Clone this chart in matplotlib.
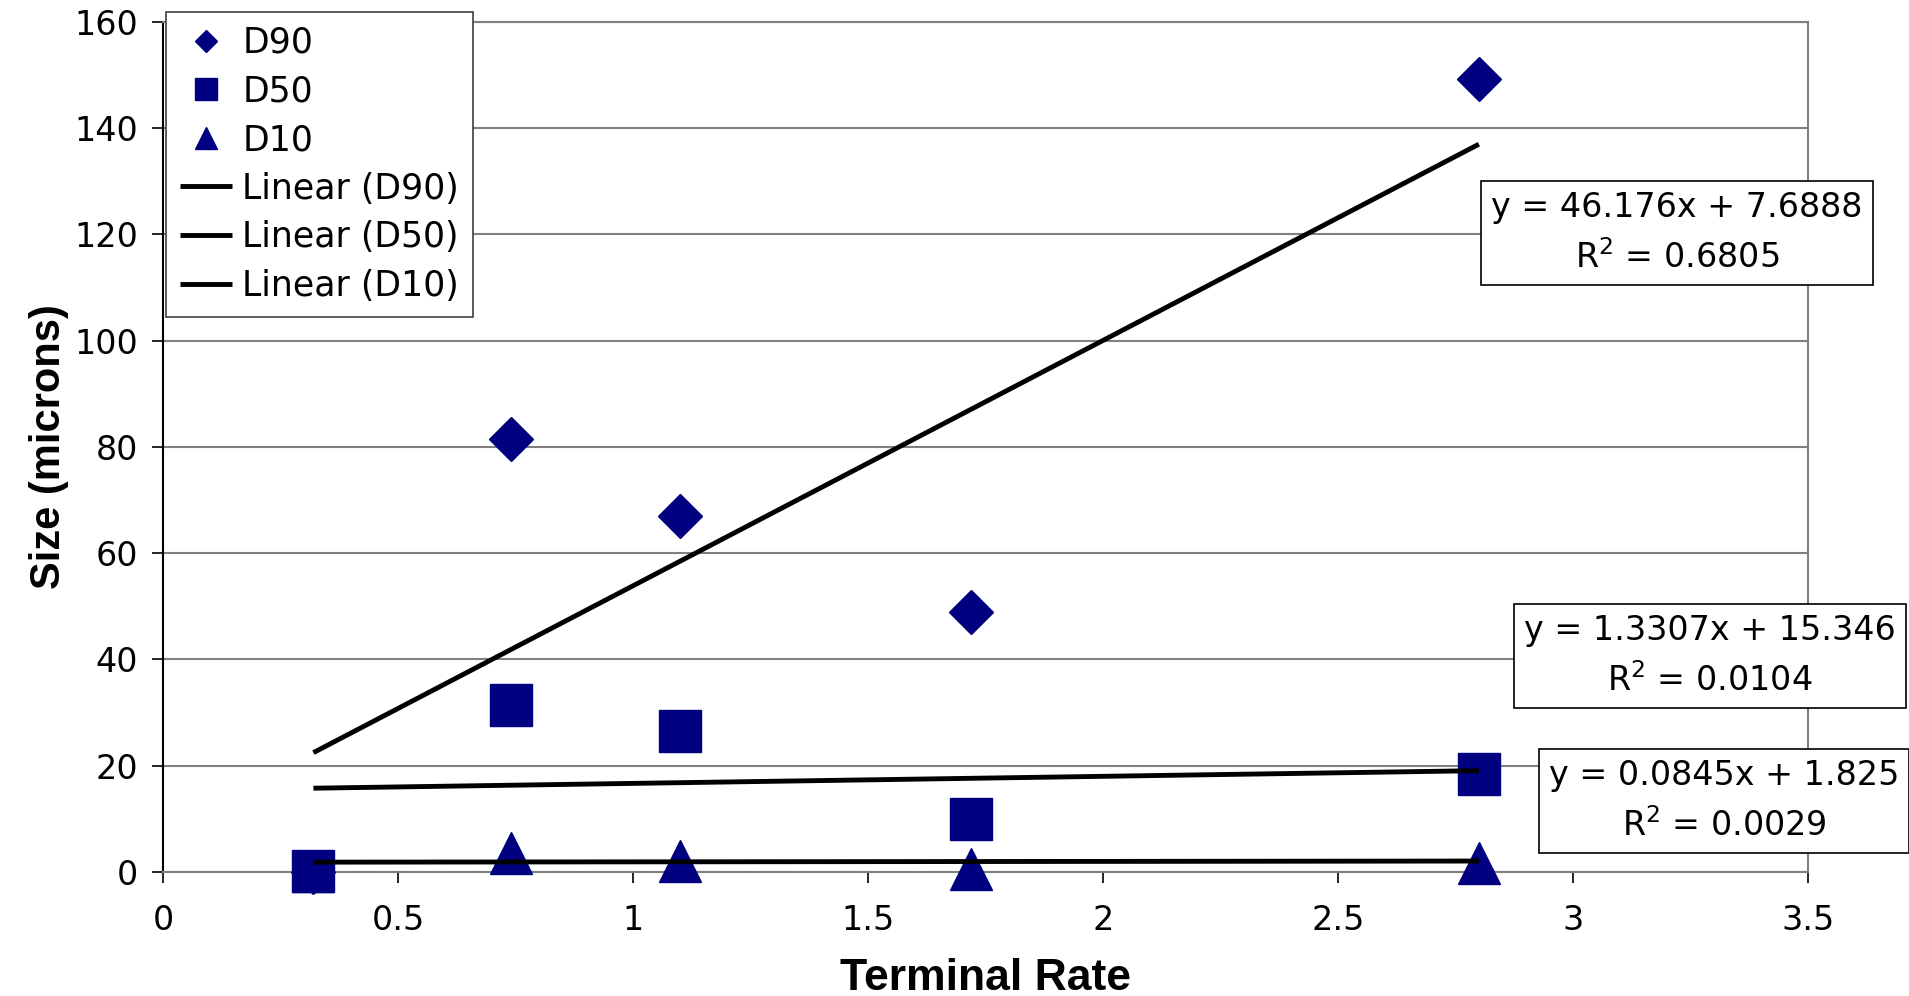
# Import libraries
import matplotlib.pyplot as plt

# Data
rate = [0.32, 0.74, 1.10, 1.72, 2.80]
d90 = [0.0, 81.5, 67.0, 49.0, 149.3]
d50 = [0.1, 31.5, 26.5, 10.0, 18.5]
d10 = [0.2, 3.6, 2.0, 0.6, 1.7]

# Trendline coefficients shown on the chart (slope, intercept, R^2)
slopes = [46.176, 1.3307, 0.0845]
intercepts = [7.6888, 15.346, 1.825]
r2 = ['0.6805', '0.0104', '0.0029']
eq_text = ['y = 46.176x + 7.6888', 'y = 1.3307x + 15.346', 'y = 0.0845x + 1.825']

x_ticks = [0, 0.5, 1, 1.5, 2, 2.5, 3, 3.5]
y_ticks = [0, 20, 40, 60, 80, 100, 120, 140, 160]

navy = '#000080'
plt.rcParams['font.family'] = ['DejaVu Sans']

# Create figure
fig = plt.figure(figsize=(19.09, 9.96), dpi=100)
ax = fig.add_axes([0.0854, 0.1245, 0.8616, 0.8535])

# Scatter markers (same colour, so overlapping ones merge like the original)
ax.plot(rate, d90, linestyle='none', marker='D', markersize=22, color=navy,
        label='D90', zorder=4, clip_on=False)
ax.plot(rate, d50, linestyle='none', marker='s', markersize=30, color=navy,
        label='D50', zorder=4, clip_on=False)
ax.plot(rate, d10, linestyle='none', marker='^', markersize=30, color=navy,
        label='D10', zorder=4, clip_on=False)

# Trendlines
names_tr = ['Linear (D90)', 'Linear (D50)', 'Linear (D10)']
x0, x1 = min(rate), max(rate)
for m, c, lab in zip(slopes, intercepts, names_tr):
    ax.plot([x0, x1], [m * x0 + c, m * x1 + c], color='black', linewidth=3.5,
            label=lab, zorder=5, solid_capstyle='butt')

# Axes styling
ax.set_xlim(0, 3.5)
ax.set_ylim(0, 160)
ax.set_xticks(x_ticks)
ax.set_xticklabels([f'{t:g}' for t in x_ticks])
ax.set_yticks(y_ticks)
ax.tick_params(axis='both', labelsize=24, length=8, width=1.2, direction='out')
ax.tick_params(axis='x', pad=15)
ax.tick_params(axis='y', pad=10)
ax.grid(axis='y', color='#808080', linewidth=1.5, zorder=0)
ax.set_axisbelow(True)
for s in ['top', 'right', 'bottom']:
    ax.spines[s].set_color('#808080')
    ax.spines[s].set_linewidth(1.5)
ax.spines['left'].set_color('black')
ax.spines['left'].set_linewidth(1.5)

ax.set_xlabel('Terminal Rate', fontsize=32, fontweight='bold', family='Liberation Sans', labelpad=15)
ax.set_ylabel('Size (microns)', fontsize=30, fontweight='bold', family='Liberation Sans', labelpad=4)

# Legend
leg = ax.legend(loc='upper left', bbox_to_anchor=(166 / 1909, 1 - 12 / 996),
                bbox_transform=fig.transFigure, fontsize=25, frameon=True,
                fancybox=False, borderpad=0.4, labelspacing=0.42, handlelength=1.5,
                handletextpad=0.3, borderaxespad=0, markerscale=0.52)
leg.get_frame().set_edgecolor('#404040')
leg.get_frame().set_linewidth(1.2)
leg.get_frame().set_alpha(1)
leg.set_zorder(6)

# Equation boxes (figure pixel centres)
box_pos = [(1677, 233), (1710, 656), (1724, 801)]
for (px, py), eq, r in zip(box_pos, eq_text, r2):
    fig.text(px / 1909, 1 - py / 996, eq + '\n' + r'R$^2$ = ' + r, fontsize=24,
             ha='center', va='center', multialignment='center', linespacing=1.55,
             bbox=dict(boxstyle='square,pad=0.3', facecolor='white', edgecolor='black', linewidth=1.2))

plt.savefig('out.png', dpi=100)
